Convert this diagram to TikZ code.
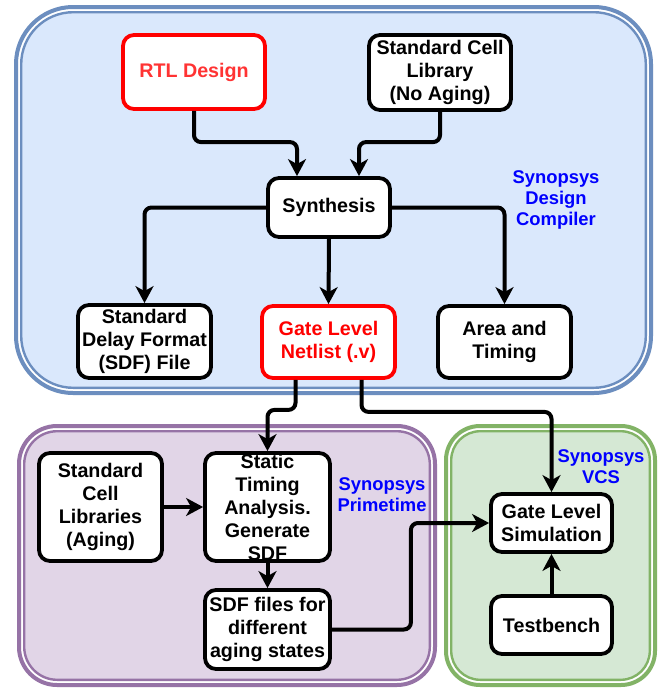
\documentclass[tikz,border=0pt]{standalone}
\usepackage{fontspec}
\setmainfont{Liberation Sans}
\usetikzlibrary{arrows.meta,calc}
\definecolor{bluefill}{HTML}{DAE8FC}
\definecolor{blueline}{HTML}{6C8EBF}
\definecolor{purplefill}{HTML}{E1D5E7}
\definecolor{purpleline}{HTML}{9673A6}
\definecolor{greenfill}{HTML}{D5E8D4}
\definecolor{greenline}{HTML}{82B366}
\definecolor{rtlred}{HTML}{FF3333}
\definecolor{lblblue}{HTML}{0000FF}
\tikzset{
  outerframe/.style={line width=4pt, fill=white},
  innerframe/.style={line width=2.4pt},
  box/.style={draw=black, fill=white, line width=3.8pt, rounded corners=11pt,
    align=center, inner sep=0pt, font=\bfseries\fontsize{19.7}{23}\selectfont},
  redbox/.style={box, draw=red},
  lbl/.style={align=center, inner sep=0pt, text=lblblue,
    font=\bfseries\fontsize{18.4}{21}\selectfont},
  conn/.style={draw=black, line width=4pt, rounded corners=7pt,
    -{Stealth[length=17pt, width=18pt, inset=5pt]}}
}
\begin{document}
\begin{tikzpicture}[x=1pt,y=-1pt]
\useasboundingbox[fill=white] (0,0) rectangle (667,688);
% containers
\draw[outerframe, draw=blueline, rounded corners=57pt] (16,7) rectangle (651,393);
\draw[innerframe, draw=blueline, fill=bluefill, rounded corners=52pt] (21.2,12.2) rectangle (645.8,387.8);
\draw[outerframe, draw=purpleline, rounded corners=38pt] (19,426) rectangle (435,685);
\draw[innerframe, draw=purpleline, fill=purplefill, rounded corners=33pt] (24.2,431.2) rectangle (429.8,679.8);
\draw[outerframe, draw=greenline, rounded corners=34pt] (446,426) rectangle (655,685);
\draw[innerframe, draw=greenline, fill=greenfill, rounded corners=29pt] (451.2,431.2) rectangle (649.8,679.8);
% labels
\node[lbl] (dc) at (556,200) {Synopsys\\Design\\Compiler};
\node[lbl] (pt) at (382,494.5) {Synopsys\\Primetime};
\node[lbl] (vcs) at (601,466.5) {Synopsys\\VCS};
% nodes
\node[redbox, text=rtlred, minimum width=142pt, minimum height=74pt] (rtl) at (194,72) {RTL Design};
\node[box, minimum width=142pt, minimum height=75pt] (lib) at (440,72.5) {Standard Cell\\Library\\(No Aging)};
\node[box, minimum width=122pt, minimum height=59pt] (synth) at (329,207.5) {Synthesis};
\node[box, minimum width=133pt, minimum height=73pt] (sdf) at (144.5,341.5) {Standard\\Delay Format\\(SDF) File};
\node[redbox, text=red, minimum width=133pt, minimum height=72pt] (net) at (328.5,342) {Gate Level\\Netlist (.v)};
\node[box, minimum width=133pt, minimum height=72pt] (area) at (504.5,342) {Area and\\Timing};
\node[box, minimum width=123pt, minimum height=108pt] (libs) at (100.5,507) {Standard\\Cell\\Libraries\\(Aging)};
\node[box, minimum width=125pt, minimum height=108pt] (sta) at (267.5,507) {Static\\Timing\\Analysis.\\Generate\\SDF};
\node[box, minimum width=125pt, minimum height=79pt] (sdfs) at (267.5,629.5) {SDF files for\\different\\aging states};
\node[box, minimum width=121pt, minimum height=58pt] (gls) at (551.5,523) {Gate Level\\Simulation};
\node[box, minimum width=121pt, minimum height=58pt] (tb) at (551.5,625) {Testbench};
% connectors
\draw[conn] (rtl.south) |- ($(synth.north)+(-32,-34)$) -- ($(synth.north)+(-32,0)$);
\draw[conn] (lib.south) |- ($(synth.north)+(30,-34)$) -- ($(synth.north)+(30,0)$);
\draw[conn] (synth.west) -| (sdf.north);
\draw[conn] (synth.south) -- (net.north);
\draw[conn] (synth.east) -| (area.north);
\draw[conn] ($(net.south)+(-33,0)$) -- ++(0,30) -| (sta.north);
\draw[conn] ($(net.south)+(33,0)$) -- ++(0,32) -| (gls.north);
\draw[conn] (libs.east) -- (sta.west);
\draw[conn] (sta.south) -- (sdfs.north);
\draw[conn] (sdfs.east) -- ++(79,0) |- (gls.west);
\draw[conn] (tb.north) -- (gls.south);
\end{tikzpicture}
\end{document}
